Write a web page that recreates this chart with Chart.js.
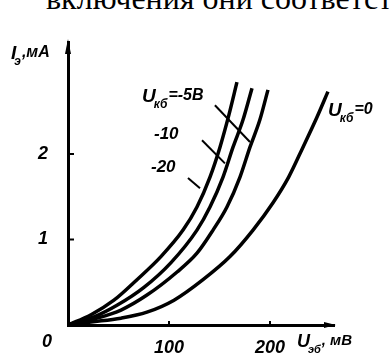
<!DOCTYPE html>
<html><head><meta charset="utf-8">
<script src="https://cdn.jsdelivr.net/npm/chart.js@4"></script>
<style>
html,body{margin:0;padding:0;background:#fff;width:390px;height:358px;overflow:hidden;}
#wrap{position:relative;width:390px;height:358px;}
#top{position:absolute;left:46px;top:-18px;font-family:"Liberation Serif","Times New Roman",serif;font-size:32px;line-height:32px;white-space:nowrap;color:#000;}
canvas{position:absolute;left:0;top:0;}
</style></head>
<body><div id="wrap"><div id="top">включения они соответст</div><canvas id="c" width="390" height="358"></canvas></div>
<script>
// Uэб, мВ vs Iэ, мА
const xTicks = [100, 200];
const yTicks = [1, 2];
const seriesNames = ["Uкб=-20", "Uкб=-10", "Uкб=-5В", "Uкб=0"];
const u20_x = [0, 22.8, 45.5, 68.3, 92, 113.9, 127.7, 140.6, 150.5, 159.4, 167.3];
const u20_y = [0, 0.12, 0.29, 0.53, 0.80, 1.11, 1.38, 1.73, 2.08, 2.46, 2.84];
const u10_x = [0, 25.7, 48.5, 75.2, 102, 127.7, 140.6, 153.5, 163.4, 173.3, 182.2];
const u10_y = [0, 0.094, 0.23, 0.44, 0.73, 1.11, 1.38, 1.73, 2.08, 2.40, 2.77];
const u5_x  = [0, 28.7, 52.5, 78.2, 108, 127.7, 143.6, 157.4, 170.3, 180.2, 190, 198];
const u5_y  = [0, 0.08, 0.175, 0.35, 0.62, 0.84, 1.11, 1.38, 1.73, 2.08, 2.40, 2.75];
const u0_x  = [0, 22.8, 52.5, 78.2, 105, 133.7, 160.4, 183.2, 203, 218.5, 232.7, 246.5, 257.4];
const u0_y  = [0, 0.035, 0.08, 0.15, 0.29, 0.53, 0.80, 1.11, 1.43, 1.73, 2.08, 2.43, 2.73];

const pts = (xs, ys) => xs.map((x, i) => ({x, y: ys[i]}));
const FONT = '"Liberation Sans", Arial, sans-serif';

function lbl(ctx, x, y, main, sub, rest, size) {
  ctx.font = 'italic bold ' + size + 'px ' + FONT;
  ctx.fillText(main, x, y);
  let w = ctx.measureText(main).width;
  ctx.font = 'italic bold ' + Math.round(size * 0.62) + 'px ' + FONT;
  ctx.fillText(sub, x + w - 2, y + size * 0.32);
  let w2 = ctx.measureText(sub).width;
  ctx.font = 'italic bold ' + Math.round(size * 0.85) + 'px ' + FONT;
  ctx.fillText(rest, x + w - 2 + w2 + 1, y - 2);
}

const deco = {
  id: 'deco',
  afterDraw(chart) {
    const ctx = chart.ctx, xs = chart.scales.x, ys = chart.scales.y;
    const X = v => xs.getPixelForValue(v), Y = v => ys.getPixelForValue(v);
    const ca = chart.chartArea;
    ctx.save();
    ctx.fillStyle = '#000'; ctx.strokeStyle = '#000';
    // arrowheads
    ctx.beginPath();
    ctx.moveTo(X(0), ca.top - 3); ctx.lineTo(X(0) - 3, ca.top + 12); ctx.lineTo(X(0) + 3, ca.top + 12); ctx.closePath(); ctx.fill();
    ctx.beginPath();
    ctx.moveTo(ca.right + 2, Y(0)); ctx.lineTo(ca.right - 10, Y(0) - 3); ctx.lineTo(ca.right - 10, Y(0) + 3); ctx.closePath(); ctx.fill();
    // small inner ticks
    ctx.lineWidth = 2;
    yTicks.forEach(v => { ctx.beginPath(); ctx.moveTo(X(0), Y(v)); ctx.lineTo(X(0) + 6, Y(v)); ctx.stroke(); });
    xTicks.forEach(v => { ctx.beginPath(); ctx.moveTo(X(v), Y(0)); ctx.lineTo(X(v), Y(0) - 4); ctx.stroke(); });
    // origin label
    ctx.font = 'italic bold 18px ' + FONT;
    ctx.textBaseline = 'alphabetic';
    ctx.fillText('0', 42, 347);
    // axis titles
    lbl(ctx, 11, 59, 'I', 'э', ',мА', 19);
    lbl(ctx, 297, 347, 'U', 'эб', ', мВ', 18);
    // curve labels
    lbl(ctx, 142, 102, 'U', 'кб', '=-5В', 19);
    ctx.font = 'italic bold 17px ' + FONT;
    ctx.fillText('-10', 154, 139);
    ctx.fillText('-20', 151, 172);
    lbl(ctx, 328, 116, 'U', 'кб', '=0', 19);
    // pointers
    ctx.lineWidth = 2;
    const ptr = [[145.5, 2.57, 180.2, 2.14], [132.7, 2.16, 155.4, 1.89], [118.8, 1.72, 130.7, 1.60]];
    ptr.forEach(p => { ctx.beginPath(); ctx.moveTo(X(p[0]), Y(p[1])); ctx.lineTo(X(p[2]), Y(p[3])); ctx.stroke(); });
    ctx.restore();
  }
};

const ds = (name, xs, ys) => ({label: name, data: pts(xs, ys), showLine: true, borderColor: '#000', borderWidth: 3.5,
  pointRadius: 0, cubicInterpolationMode: 'monotone', fill: false});

new Chart(document.getElementById('c'), {
  type: 'scatter',
  data: {datasets: [ds(seriesNames[0], u20_x, u20_y), ds(seriesNames[1], u10_x, u10_y), ds(seriesNames[2], u5_x, u5_y), ds(seriesNames[3], u0_x, u0_y)]},
  options: {
    responsive: false, animation: false, devicePixelRatio: 1,
    layout: {padding: {top: 42, right: 56, left: 0, bottom: 0}},
    plugins: {legend: {display: false}, tooltip: {enabled: false}},
    scales: {
      x: {type: 'linear', min: 0, max: 263.4,
        grid: {display: false}, border: {display: true, color: '#000', width: 3},
        afterBuildTicks: s => { s.ticks = xTicks.map(v => ({value: v})); },
        afterFit: s => { s.height = 33; },
        ticks: {color: '#000', padding: 4, font: {family: FONT, size: 18, style: 'italic', weight: 'bold'}}},
      y: {type: 'linear', min: 0, max: 3.31,
        grid: {display: false}, border: {display: true, color: '#000', width: 3},
        afterBuildTicks: s => { s.ticks = yTicks.map(v => ({value: v})); },
        afterFit: s => { s.width = 68; },
        ticks: {color: '#000', padding: 12, font: {family: FONT, size: 18, style: 'italic', weight: 'bold'}}}
    }
  },
  plugins: [deco]
});
</script></body></html>
